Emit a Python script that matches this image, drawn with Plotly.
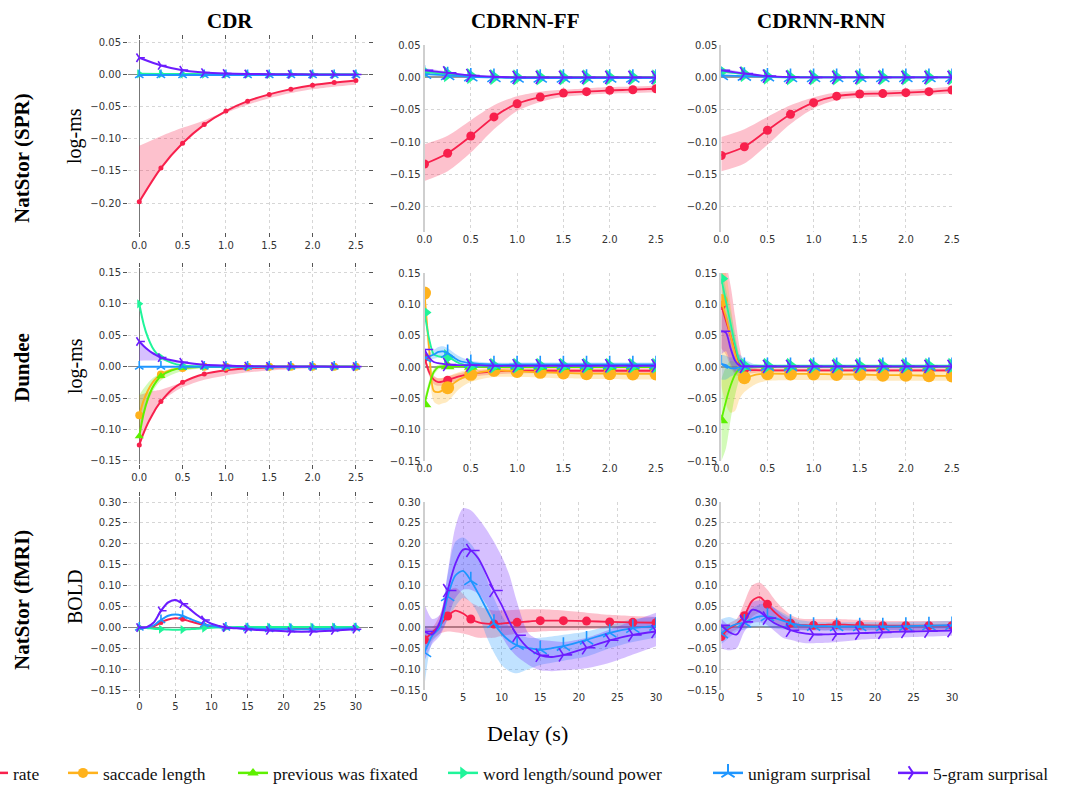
import plotly.graph_objects as go

# ---------------- grids (delay values) ----------------
X_Q = [0.0, 0.25, 0.5, 0.75, 1.0, 1.25, 1.5, 1.75, 2.0, 2.25, 2.5]
X_D = [0.0, 0.05, 0.1, 0.15, 0.2, 0.25, 0.375, 0.5, 0.75, 1.0, 1.25, 1.5, 1.75, 2.0, 2.25, 2.5]
X_F = [0, 1, 2, 3, 4, 5, 6, 7, 8, 9, 10, 11, 12, 13.5, 15, 16.5, 18, 21, 24, 27, 30]

VARS = ["rate", "saccade length", "previous was fixated", "word length/sound power",
        "unigram surprisal", "5-gram surprisal"]
COL_TITLES = ["CDR", "CDRNN-FF", "CDRNN-RNN"]
ROW_TITLES = ["NatStor (SPR)", "Dundee", "NatStor (fMRI)"]
ROW_UNITS = ["log-ms", "log-ms", "BOLD"]
X_TITLE = "Delay (s)"

# ---------------- NatStor (SPR) ----------------
spr_cdr_rate = [-0.198, -0.1456, -0.107, -0.078, -0.057, -0.0415, -0.031, -0.0228, -0.0166, -0.0124, -0.0093]
spr_cdr_rate_hi = [-0.111, -0.096, -0.083, -0.0715, -0.057, -0.0415, -0.031, -0.0228, -0.0166, -0.0124, -0.0093]
spr_cdr_rate_lo = [-0.198, -0.1456, -0.107, -0.078, -0.060, -0.047, -0.037, -0.029, -0.023, -0.019, -0.016]
spr_cdr_wlen = [0.001, 0.0008, 0.0006, 0.0005, 0.0004, 0.0004, 0.0003, 0.0003, 0.0003, 0.0003, 0.0003]
spr_cdr_uni = [-0.001, -0.001, -0.001, -0.001, -0.001, -0.001, -0.001, -0.001, -0.001, -0.001, -0.001]
spr_cdr_5g = [0.026, 0.014, 0.0067, 0.003, 0.0015, 0.0008, 0.0004, 0.0002, 0.0001, 0.0, 0.0]

spr_ff_rate = [-0.1337, -0.117, -0.0905, -0.061, -0.0406, -0.0303, -0.0242, -0.022, -0.020, -0.019, -0.0175]
spr_ff_rate_hi = [-0.103, -0.090, -0.066, -0.043, -0.029, -0.022, -0.019, -0.017, -0.015, -0.014, -0.013]
spr_ff_rate_lo = [-0.160, -0.145, -0.116, -0.080, -0.052, -0.038, -0.030, -0.027, -0.025, -0.024, -0.023]
spr_ff_wlen = [0.008, 0.005, 0.002, 0.0005, 0.0, 0.0, 0.0, 0.0, 0.0, 0.0, 0.0]
spr_ff_uni = [0.005, 0.003, 0.001, 0.0, -0.001, -0.001, -0.001, -0.001, -0.001, -0.001, -0.001]
spr_ff_5g = [0.011, 0.007, 0.003, 0.001, 0.0, 0.0, 0.0, 0.0, 0.0, 0.0, 0.0]
spr_ff_5g_hi = [0.014, 0.009, 0.004, 0.0015, 0.0005, 0.0, 0.0, 0.0, 0.0, 0.0, 0.0]
spr_ff_5g_lo = [0.007, 0.005, 0.002, 0.0005, -0.0005, -0.001, -0.001, -0.001, -0.001, -0.001, -0.001]

spr_rnn_rate = [-0.1205, -0.107, -0.0815, -0.057, -0.039, -0.029, -0.0256, -0.025, -0.0236, -0.022, -0.0195]
spr_rnn_rate_hi = [-0.092, -0.080, -0.061, -0.043, -0.031, -0.023, -0.021, -0.020, -0.019, -0.017, -0.014]
spr_rnn_rate_lo = [-0.145, -0.133, -0.104, -0.072, -0.048, -0.035, -0.031, -0.030, -0.029, -0.027, -0.025]
spr_rnn_wlen = [0.009, 0.005, 0.001, 0.0, 0.0, 0.0, 0.0, 0.0, 0.0, 0.0, 0.0]
spr_rnn_uni = [0.003, 0.002, 0.001, 0.0, 0.0, 0.0, 0.0, 0.0, 0.0, 0.0, 0.0]
spr_rnn_5g = [0.011, 0.006, 0.002, 0.0005, 0.0, 0.0, 0.0, 0.0, 0.0, 0.0, 0.0]
spr_rnn_5g_hi = [0.014, 0.008, 0.003, 0.001, 0.0005, 0.0, 0.0, 0.0, 0.0, 0.0, 0.0]
spr_rnn_5g_lo = [0.007, 0.004, 0.001, 0.0, -0.0005, 0.0, 0.0, 0.0, 0.0, 0.0, 0.0]

# ---------------- Dundee ----------------
dd_cdr_rate = [-0.1246, -0.106, -0.090, -0.077, -0.065, -0.0557, -0.037, -0.025, -0.0117, -0.0058, -0.0027, -0.0012, -0.0006, -0.0003, -0.0001, 0.0]
dd_cdr_rate_hi = [-0.045, -0.043, -0.041, -0.039, -0.038, -0.037, -0.031, -0.025, -0.0117, -0.0058, -0.0027, -0.0012, -0.0006, -0.0003, -0.0001, 0.0]
dd_cdr_rate_lo = [-0.1246, -0.106, -0.090, -0.077, -0.065, -0.0557, -0.043, -0.033, -0.021, -0.014, -0.009, -0.006, -0.004, -0.002, -0.001, -0.0005]
dd_cdr_sacc = [-0.0775, -0.054, -0.038, -0.026, -0.018, -0.0127, -0.005, -0.002, -0.0003, 0.0, 0.0, 0.0, 0.0, 0.0, 0.0, 0.0]
dd_cdr_prev = [-0.111, -0.075, -0.051, -0.034, -0.023, -0.015, -0.006, -0.002, -0.0004, 0.0, 0.0, 0.0, 0.0, 0.0, 0.0, 0.0]
dd_cdr_prev_hi = [-0.045, -0.035, -0.026, -0.019, -0.014, -0.009, -0.003, -0.001, 0.0, 0.0, 0.0, 0.0, 0.0, 0.0, 0.0, 0.0]
dd_cdr_prev_lo = [-0.111, -0.078, -0.056, -0.041, -0.030, -0.022, -0.013, -0.007, -0.002, -0.001, 0.0, 0.0, 0.0, 0.0, 0.0, 0.0]
dd_cdr_wlen = [0.100, 0.068, 0.046, 0.031, 0.021, 0.0148, 0.006, 0.002, 0.0005, 0.0001, 0.0, 0.0, 0.0, 0.0, 0.0, 0.0]
dd_cdr_uni = [0.0, 0.0, 0.0, 0.0, 0.0, 0.0, 0.0, 0.0, 0.0, 0.0, 0.0, 0.0, 0.0, 0.0, 0.0, 0.0]
dd_cdr_5g = [0.040, 0.033, 0.027, 0.022, 0.018, 0.0143, 0.010, 0.007, 0.003, 0.0016, 0.0008, 0.0004, 0.0002, 0.0001, 0.0, 0.0]
dd_cdr_5g_hi = [0.040, 0.033, 0.027, 0.022, 0.018, 0.0143, 0.010, 0.007, 0.003, 0.0016, 0.0008, 0.0004, 0.0002, 0.0001, 0.0, 0.0]
dd_cdr_5g_lo = [0.0095, 0.0096, 0.0097, 0.0098, 0.0099, 0.010, 0.007, 0.005, 0.002, 0.001, 0.0005, 0.0002, 0.0001, 0.0, 0.0, 0.0]

dd_ff_rate = [0.015, -0.008, -0.020, -0.024, -0.023, -0.021, -0.015, -0.011, -0.0075, -0.006, -0.006, -0.006, -0.006, -0.006, -0.006, -0.006]
dd_ff_rate_hi = [0.020, -0.002, -0.014, -0.018, -0.017, -0.015, -0.010, -0.006, -0.003, -0.002, -0.002, -0.002, -0.002, -0.002, -0.002, -0.002]
dd_ff_rate_lo = [0.008, -0.014, -0.027, -0.030, -0.029, -0.027, -0.021, -0.016, -0.012, -0.010, -0.010, -0.010, -0.010, -0.010, -0.010, -0.010]
dd_ff_sacc = [0.118, 0.030, -0.038, -0.040, -0.037, -0.033, -0.020, -0.0117, -0.0053, -0.007, -0.0085, -0.0096, -0.0106, -0.0106, -0.011, -0.011]
dd_ff_sacc_hi = [0.120, 0.050, -0.015, -0.018, -0.017, -0.015, -0.008, -0.004, -0.001, -0.002, -0.003, -0.003, -0.004, -0.004, -0.004, -0.004]
dd_ff_sacc_lo = [0.110, 0.000, -0.055, -0.060, -0.058, -0.055, -0.035, -0.024, -0.016, -0.016, -0.017, -0.018, -0.019, -0.019, -0.020, -0.020]
dd_ff_prev = [-0.0595, -0.030, -0.008, 0.000, 0.001, 0.001, 0.001, 0.0005, 0.0, 0.0, 0.0, 0.0, 0.0, 0.0, 0.0, 0.0]
dd_ff_prev_hi = [-0.050, -0.022, -0.003, 0.004, 0.004, 0.003, 0.002, 0.001, 0.001, 0.001, 0.001, 0.001, 0.001, 0.001, 0.001, 0.001]
dd_ff_prev_lo = [-0.066, -0.037, -0.013, -0.004, -0.002, -0.001, 0.0, 0.0, -0.001, -0.001, -0.001, -0.001, -0.001, -0.001, -0.001, -0.001]
dd_ff_wlen = [0.087, 0.045, 0.020, 0.017, 0.016, 0.016, 0.006, 0.002, 0.002, 0.002, 0.002, 0.002, 0.002, 0.002, 0.002, 0.002]
dd_ff_uni = [0.015, 0.017, 0.020, 0.024, 0.025, 0.022, 0.010, 0.006, 0.004, 0.004, 0.004, 0.004, 0.004, 0.004, 0.004, 0.004]
dd_ff_uni_hi = [0.020, 0.022, 0.027, 0.032, 0.033, 0.030, 0.017, 0.010, 0.007, 0.007, 0.007, 0.007, 0.007, 0.007, 0.007, 0.007]
dd_ff_uni_lo = [0.010, 0.012, 0.013, 0.015, 0.017, 0.014, 0.005, 0.002, 0.001, 0.001, 0.001, 0.001, 0.001, 0.001, 0.001, 0.001]
dd_ff_5g = [0.028, 0.015, 0.008, 0.006, 0.005, 0.004, 0.003, 0.003, 0.002, 0.002, 0.002, 0.002, 0.002, 0.002, 0.002, 0.002]

dd_rnn_rate = [0.098, 0.074, 0.050, 0.025, 0.005, -0.004, -0.005, -0.0053, -0.0053, -0.0053, -0.0053, -0.0053, -0.0053, -0.0053, -0.0053, -0.0053]
dd_rnn_rate_hi = [0.150, 0.160, 0.130, 0.080, 0.030, 0.005, -0.001, -0.002, -0.002, -0.002, -0.002, -0.002, -0.002, -0.002, -0.002, -0.002]
dd_rnn_rate_lo = [0.030, 0.020, 0.000, -0.012, -0.015, -0.012, -0.009, -0.008, -0.008, -0.008, -0.008, -0.008, -0.008, -0.008, -0.008, -0.008]
dd_rnn_sacc = [0.106, 0.080, 0.050, 0.020, -0.005, -0.017, -0.012, -0.0106, -0.011, -0.011, -0.012, -0.012, -0.013, -0.013, -0.014, -0.0143]
dd_rnn_sacc_hi = [0.170, 0.150, 0.100, 0.050, 0.015, 0.000, -0.002, -0.003, -0.004, -0.004, -0.005, -0.005, -0.005, -0.005, -0.006, -0.006]
dd_rnn_sacc_lo = [-0.030, -0.060, -0.073, -0.070, -0.050, -0.040, -0.027, -0.022, -0.021, -0.021, -0.021, -0.021, -0.022, -0.022, -0.022, -0.022]
dd_rnn_prev = [-0.085, -0.055, -0.030, -0.012, -0.003, 0.000, 0.001, 0.001, 0.001, 0.001, 0.001, 0.001, 0.001, 0.001, 0.001, 0.001]
dd_rnn_prev_hi = [-0.020, 0.000, 0.010, 0.008, 0.005, 0.003, 0.002, 0.002, 0.002, 0.002, 0.002, 0.002, 0.002, 0.002, 0.002, 0.002]
dd_rnn_prev_lo = [-0.150, -0.130, -0.085, -0.045, -0.018, -0.006, -0.002, -0.001, -0.001, -0.001, -0.001, -0.001, -0.001, -0.001, -0.001, -0.001]
dd_rnn_wlen = [0.141, 0.105, 0.070, 0.035, 0.008, 0.002, 0.002, 0.002, 0.002, 0.002, 0.002, 0.002, 0.002, 0.002, 0.002, 0.002]
dd_rnn_wlen_hi = [0.160, 0.125, 0.090, 0.052, 0.018, 0.006, 0.004, 0.003, 0.003, 0.003, 0.003, 0.003, 0.003, 0.003, 0.003, 0.003]
dd_rnn_wlen_lo = [0.120, 0.085, 0.050, 0.020, 0.000, -0.002, 0.000, 0.001, 0.001, 0.001, 0.001, 0.001, 0.001, 0.001, 0.001, 0.001]
dd_rnn_uni = [0.005, 0.003, -0.002, -0.002, 0.000, 0.001, 0.001, 0.001, 0.001, 0.001, 0.001, 0.001, 0.001, 0.001, 0.001, 0.001]
dd_rnn_uni_hi = [0.020, 0.018, 0.015, 0.018, 0.020, 0.012, 0.004, 0.003, 0.003, 0.003, 0.003, 0.003, 0.003, 0.003, 0.003, 0.003]
dd_rnn_uni_lo = [-0.020, -0.020, -0.015, -0.012, -0.008, -0.005, -0.002, -0.001, -0.001, -0.001, -0.001, -0.001, -0.001, -0.001, -0.001, -0.001]
dd_rnn_5g = [0.057, 0.055, 0.030, 0.010, 0.002, 0.001, 0.001, 0.001, 0.001, 0.001, 0.001, 0.001, 0.001, 0.001, 0.001, 0.001]
dd_rnn_5g_hi = [0.090, 0.085, 0.060, 0.030, 0.010, 0.004, 0.002, 0.002, 0.002, 0.002, 0.002, 0.002, 0.002, 0.002, 0.002, 0.002]
dd_rnn_5g_lo = [0.020, 0.025, 0.005, -0.008, -0.006, -0.002, 0.000, 0.000, 0.000, 0.000, 0.000, 0.000, 0.000, 0.000, 0.000, 0.000]

# ---------------- NatStor (fMRI) ----------------
fm_cdr_rate = [0.0, 0.0, 0.003, 0.012, 0.019, 0.022, 0.020, 0.015, 0.010, 0.006, 0.003, 0.001, 0.0, -0.001, -0.001, -0.0015, -0.002, -0.002, -0.002, -0.0015, -0.001]
fm_cdr_wlen = [0.0, -0.001, -0.003, -0.004, -0.005, -0.0055, -0.005, -0.004, -0.003, -0.0015, -0.0005, 0.0, 0.0005, 0.001, 0.001, 0.001, 0.001, 0.001, 0.001, 0.001, 0.001]
fm_cdr_uni = [0.0, 0.0, 0.005, 0.018, 0.028, 0.031, 0.028, 0.021, 0.014, 0.008, 0.004, 0.001, 0.0, -0.001, -0.002, -0.003, -0.0035, -0.004, -0.004, -0.003, -0.002]
fm_cdr_5g = [0.0, 0.001, 0.012, 0.040, 0.060, 0.066, 0.057, 0.044, 0.030, 0.018, 0.009, 0.004, 0.0, -0.002, -0.004, -0.006, -0.007, -0.0095, -0.0095, -0.007, -0.004]
fm_cdr_5g_hi = [0.0, 0.002, 0.014, 0.043, 0.063, 0.069, 0.060, 0.046, 0.032, 0.019, 0.010, 0.004, 0.0, -0.002, -0.003, -0.005, -0.006, -0.008, -0.008, -0.006, -0.003]
fm_cdr_5g_lo = [0.0, 0.0, 0.010, 0.037, 0.057, 0.063, 0.054, 0.042, 0.028, 0.017, 0.008, 0.003, -0.001, -0.003, -0.005, -0.007, -0.008, -0.011, -0.011, -0.008, -0.005]

fm_ff_rate = [-0.030, -0.012, 0.005, 0.027, 0.040, 0.033, 0.020, 0.012, 0.009, 0.008, 0.009, 0.011, 0.012, 0.014, 0.016, 0.016, 0.016, 0.015, 0.013, 0.012, 0.011]
fm_ff_rate_hi = [0.000, 0.000, 0.030, 0.085, 0.095, 0.080, 0.060, 0.050, 0.045, 0.040, 0.040, 0.041, 0.042, 0.043, 0.043, 0.042, 0.040, 0.035, 0.030, 0.027, 0.025]
fm_ff_rate_lo = [-0.060, -0.030, -0.015, -0.010, -0.012, -0.015, -0.020, -0.025, -0.025, -0.025, -0.020, -0.018, -0.015, -0.012, -0.010, -0.009, -0.008, -0.005, -0.003, -0.002, -0.002]
fm_ff_uni = [-0.060, -0.020, 0.000, 0.074, 0.124, 0.135, 0.112, 0.080, 0.045, 0.010, -0.015, -0.032, -0.043, -0.050, -0.053, -0.050, -0.045, -0.030, -0.013, -0.002, 0.003]
fm_ff_uni_hi = [0.000, -0.005, 0.020, 0.125, 0.205, 0.215, 0.200, 0.170, 0.120, 0.070, 0.030, 0.000, -0.015, -0.025, -0.025, -0.022, -0.018, -0.010, 0.005, 0.020, 0.025]
fm_ff_uni_lo = [-0.140, -0.035, -0.015, 0.020, 0.050, 0.070, 0.060, 0.030, -0.020, -0.060, -0.090, -0.105, -0.110, -0.100, -0.090, -0.085, -0.080, -0.070, -0.050, -0.035, -0.025]
fm_ff_5g = [-0.010, -0.017, 0.013, 0.088, 0.152, 0.186, 0.184, 0.164, 0.128, 0.088, 0.053, 0.013, -0.019, -0.051, -0.067, -0.071, -0.066, -0.049, -0.031, -0.018, -0.010]
fm_ff_5g_hi = [0.055, 0.020, 0.030, 0.130, 0.240, 0.285, 0.280, 0.260, 0.235, 0.205, 0.170, 0.125, 0.060, -0.015, -0.030, -0.033, -0.035, -0.025, -0.005, 0.015, 0.035]
fm_ff_5g_lo = [-0.080, -0.040, -0.020, 0.020, 0.070, 0.090, 0.090, 0.080, 0.055, 0.020, -0.020, -0.050, -0.070, -0.090, -0.103, -0.105, -0.103, -0.098, -0.085, -0.065, -0.045]

fm_rnn_rate = [-0.022, -0.003, 0.008, 0.028, 0.063, 0.072, 0.055, 0.035, 0.020, 0.010, 0.006, 0.005, 0.005, 0.006, 0.007, 0.006, 0.005, 0.004, 0.004, 0.004, 0.004]
fm_rnn_rate_hi = [-0.005, 0.010, 0.020, 0.060, 0.100, 0.107, 0.090, 0.065, 0.045, 0.030, 0.022, 0.020, 0.020, 0.020, 0.020, 0.019, 0.018, 0.016, 0.015, 0.015, 0.015]
fm_rnn_rate_lo = [-0.035, -0.015, -0.005, 0.000, 0.025, 0.035, 0.025, 0.010, 0.000, -0.003, -0.006, -0.007, -0.007, -0.007, -0.006, -0.007, -0.007, -0.008, -0.008, -0.008, -0.008]
fm_rnn_uni = [-0.015, 0.000, 0.008, 0.011, 0.020, 0.026, 0.026, 0.022, 0.016, 0.010, 0.006, 0.004, 0.003, 0.003, 0.002, 0.002, 0.002, 0.002, 0.003, 0.004, 0.005]
fm_rnn_uni_hi = [0.020, 0.025, 0.020, 0.030, 0.045, 0.055, 0.055, 0.045, 0.035, 0.025, 0.018, 0.015, 0.013, 0.012, 0.012, 0.012, 0.012, 0.012, 0.013, 0.014, 0.016]
fm_rnn_uni_lo = [-0.040, -0.025, -0.010, -0.005, 0.000, 0.002, 0.000, -0.003, -0.005, -0.006, -0.007, -0.007, -0.007, -0.008, -0.008, -0.008, -0.008, -0.007, -0.006, -0.005, -0.005]
fm_rnn_5g = [0.005, -0.011, -0.017, 0.013, 0.042, 0.037, 0.022, 0.009, 0.001, -0.007, -0.012, -0.015, -0.017, -0.017, -0.016, -0.015, -0.014, -0.012, -0.010, -0.009, -0.008]
fm_rnn_5g_hi = [0.020, 0.005, 0.000, 0.030, 0.060, 0.065, 0.060, 0.045, 0.030, 0.020, 0.010, 0.005, 0.003, 0.000, 0.000, 0.000, 0.000, 0.000, 0.000, 0.002, 0.003]
fm_rnn_5g_lo = [-0.050, -0.055, -0.050, -0.010, 0.010, 0.012, 0.005, -0.010, -0.025, -0.030, -0.035, -0.038, -0.038, -0.037, -0.035, -0.033, -0.030, -0.027, -0.024, -0.022, -0.020]

# ---------------- styling ----------------
W, H = 1077, 785
COLORS = ["#f8204c", "#ffb21c", "#5ef000", "#1ff59a", "#1e96ff", "#6c1cff"]
SYMBOLS = ["circle", "circle", "triangle-up", "triangle-right", "y-up", "y-right"]
SIZE_CDR = [5, 8, 8, 8, 7, 7]
SIZE_NN = [9, 13, 12, 14, 11, 11]
SIZE_LEG = [7, 10, 10, 11, 11, 11]
FILL_ALPHA = 0.28
SERIF = "Liberation Serif"
SANS = "DejaVu Sans"


def rgba(hexc, a):
    h = hexc.lstrip("#")
    return "rgba(%d,%d,%d,%.3f)" % (int(h[0:2], 16), int(h[2:4], 16), int(h[4:6], 16), a)


panels = [
    dict(r=1, c=1, x=X_Q, step=0.25, s={0: (spr_cdr_rate, spr_cdr_rate_lo, spr_cdr_rate_hi), 4: (spr_cdr_uni, None, None), 3: (spr_cdr_wlen, None, None), 5: (spr_cdr_5g, None, None)}),
    dict(r=1, c=2, x=X_Q, step=0.25, s={0: (spr_ff_rate, spr_ff_rate_lo, spr_ff_rate_hi), 4: (spr_ff_uni, None, None), 5: (spr_ff_5g, spr_ff_5g_lo, spr_ff_5g_hi), 3: (spr_ff_wlen, None, None)}),
    dict(r=1, c=3, x=X_Q, step=0.25, s={0: (spr_rnn_rate, spr_rnn_rate_lo, spr_rnn_rate_hi), 4: (spr_rnn_uni, None, None), 5: (spr_rnn_5g, spr_rnn_5g_lo, spr_rnn_5g_hi), 3: (spr_rnn_wlen, None, None)}),
    dict(r=2, c=1, x=X_D, step=0.25, s={0: (dd_cdr_rate, dd_cdr_rate_lo, dd_cdr_rate_hi), 1: (dd_cdr_sacc, None, None), 2: (dd_cdr_prev, dd_cdr_prev_lo, dd_cdr_prev_hi), 3: (dd_cdr_wlen, None, None), 4: (dd_cdr_uni, None, None), 5: (dd_cdr_5g, dd_cdr_5g_lo, dd_cdr_5g_hi)}),
    dict(r=2, c=2, x=X_D, step=0.25, s={0: (dd_ff_rate, dd_ff_rate_lo, dd_ff_rate_hi), 1: (dd_ff_sacc, dd_ff_sacc_lo, dd_ff_sacc_hi), 2: (dd_ff_prev, dd_ff_prev_lo, dd_ff_prev_hi), 3: (dd_ff_wlen, None, None), 4: (dd_ff_uni, dd_ff_uni_lo, dd_ff_uni_hi), 5: (dd_ff_5g, None, None)}),
    dict(r=2, c=3, x=X_D, step=0.25, s={0: (dd_rnn_rate, dd_rnn_rate_lo, dd_rnn_rate_hi), 1: (dd_rnn_sacc, dd_rnn_sacc_lo, dd_rnn_sacc_hi), 2: (dd_rnn_prev, dd_rnn_prev_lo, dd_rnn_prev_hi), 3: (dd_rnn_wlen, dd_rnn_wlen_lo, dd_rnn_wlen_hi), 4: (dd_rnn_uni, dd_rnn_uni_lo, dd_rnn_uni_hi), 5: (dd_rnn_5g, dd_rnn_5g_lo, dd_rnn_5g_hi)}),
    dict(r=3, c=1, x=X_F, step=3, s={0: (fm_cdr_rate, None, None), 3: (fm_cdr_wlen, None, None), 4: (fm_cdr_uni, None, None), 5: (fm_cdr_5g, fm_cdr_5g_lo, fm_cdr_5g_hi)}),
    dict(r=3, c=2, x=X_F, step=3, s={0: (fm_ff_rate, fm_ff_rate_lo, fm_ff_rate_hi), 4: (fm_ff_uni, fm_ff_uni_lo, fm_ff_uni_hi), 5: (fm_ff_5g, fm_ff_5g_lo, fm_ff_5g_hi)}),
    dict(r=3, c=3, x=X_F, step=3, s={0: (fm_rnn_rate, fm_rnn_rate_lo, fm_rnn_rate_hi), 4: (fm_rnn_uni, fm_rnn_uni_lo, fm_rnn_uni_hi), 5: (fm_rnn_5g, fm_rnn_5g_lo, fm_rnn_5g_hi)}),
]

# pixel layout of the plotting areas
COL_PX = {1: (128, 368), 2: (424.5, 656), 3: (721.3, 952)}
ROW_PX_CDR = {1: (40, 232), 2: (268, 464), 3: (497, 693)}
ROW_PX_NN = {1: (45, 232), 2: (273, 461), 3: (502, 690)}
YRANGE_CDR = {1: [-0.245, 0.0536], 2: [-0.155, 0.157], 3: [-0.1565, 0.312]}
YRANGE_NN = {1: [-0.2386, 0.05], 2: [-0.15, 0.15], 3: [-0.15, 0.30]}
XRANGE_CDR = {1: [-0.13, 2.64], 2: [-0.13, 2.64], 3: [-1.57, 31.7]}
XRANGE_NN = {1: [0, 2.5], 2: [0, 2.5], 3: [0, 30]}

fig = go.Figure()
layout = {}

for p in panels:
    r, c = p["r"], p["c"]
    idx = (r - 1) * 3 + c
    xa = "x" if idx == 1 else "x%d" % idx
    ya = "y" if idx == 1 else "y%d" % idx
    cdr = (c == 1)
    X = p["x"]
    sizes = SIZE_CDR if cdr else SIZE_NN
    order = sorted(p["s"].keys())
    # bands
    for vi in order:
        y, lo, hi = p["s"][vi]
        if lo is None:
            continue
        fig.add_trace(go.Scatter(x=X, y=hi, mode="lines", line=dict(width=0, shape="spline", smoothing=0.8),
                                 xaxis=xa, yaxis=ya, showlegend=False, hoverinfo="skip"))
        fig.add_trace(go.Scatter(x=X, y=lo, mode="lines", line=dict(width=0, shape="spline", smoothing=0.8),
                                 fill="tonexty", fillcolor=rgba(COLORS[vi], FILL_ALPHA),
                                 xaxis=xa, yaxis=ya, showlegend=False, hoverinfo="skip"))
    # lines + markers
    for vi in order:
        y, lo, hi = p["s"][vi]
        fig.add_trace(go.Scatter(x=X, y=y, mode="lines",
                                 line=dict(color=COLORS[vi], width=2 if cdr else 1.8, shape="spline", smoothing=0.8),
                                 xaxis=xa, yaxis=ya, showlegend=False, hoverinfo="skip"))
        keep = [i for i, xv in enumerate(X) if abs(xv / p["step"] - round(xv / p["step"])) < 1e-9]
        sym = SYMBOLS[vi]
        is_y = sym.startswith("y-")
        fig.add_trace(go.Scatter(
            x=[X[i] for i in keep], y=[y[i] for i in keep], mode="markers",
            marker=dict(symbol=sym, size=sizes[vi], color=COLORS[vi],
                        line=dict(width=1.6 if is_y else 0, color=COLORS[vi])),
            xaxis=xa, yaxis=ya, showlegend=False, hoverinfo="skip"))

    x0, x1 = COL_PX[c]
    y0, y1 = (ROW_PX_CDR if cdr else ROW_PX_NN)[r]
    xkey = "xaxis" if idx == 1 else "xaxis%d" % idx
    ykey = "yaxis" if idx == 1 else "yaxis%d" % idx
    common = dict(showgrid=True, gridcolor="#d6d6d6", griddash="dot", gridwidth=1,
                  tickfont=dict(family=SANS, size=10, color="#333"), fixedrange=True)
    xd = dict(common, domain=[x0 / W, x1 / W], anchor=ya,
              range=(XRANGE_CDR if cdr else XRANGE_NN)[r],
              dtick=0.5 if r < 3 else 5, tick0=0, tickformat=".1f" if r < 3 else "d")
    yd = dict(common, domain=[1 - y1 / H, 1 - y0 / H], anchor=xa,
              range=(YRANGE_CDR if cdr else YRANGE_NN)[r], dtick=0.05, tick0=0, tickformat=".2f")
    if cdr:
        for d in (xd, yd):
            d.update(ticks="outside", ticklen=4, tickwidth=1, tickcolor="#555",
                     showline=True, linecolor="rgba(0,0,0,0)", mirror="ticks")
        xd.update(zeroline=True, zerolinecolor="#777", zerolinewidth=1.2)
        yd.update(zeroline=True, zerolinecolor="#888", zerolinewidth=1.2)
    else:
        xd.update(ticks="", zeroline=False, showline=False)
        yd.update(ticks="", zeroline=True, zerolinecolor="#999", zerolinewidth=1.5,
                  showline=True, linecolor="#cfcfcf", linewidth=2)
    layout[xkey] = xd
    layout[ykey] = yd

# legend entries (one legend per entry so each sits at its own place)
LEG_X = [-27, 63, 233, 443, 708, 893]
for vi, name in enumerate(VARS):
    sym = SYMBOLS[vi]
    is_y = sym.startswith("y-")
    lk = "legend" if vi == 0 else "legend%d" % (vi + 1)
    fig.add_trace(go.Scatter(
        x=[None], y=[None], mode="lines+markers", name=name,
        line=dict(color=COLORS[vi], width=2.5),
        marker=dict(symbol=sym, size=SIZE_LEG[vi], color=COLORS[vi],
                    line=dict(width=2 if is_y else 0, color=COLORS[vi])),
        legend=lk, showlegend=True, xaxis="x", yaxis="y"))
    layout[lk] = dict(x=LEG_X[vi] / W, y=1 - 773 / H, xanchor="left", yanchor="middle",
                      orientation="h", bgcolor="rgba(0,0,0,0)", borderwidth=0,
                      font=dict(family=SERIF, size=17.5, color="#111"))

ann = []
for c, t, xc in zip([1, 2, 3], COL_TITLES, [230, 525, 821]):
    ann.append(dict(text="<b>%s</b>" % t, x=xc / W, y=1 - 21 / H, xref="paper", yref="paper",
                    showarrow=False, font=dict(family=SERIF, size=21, color="#000"),
                    xanchor="center", yanchor="middle"))
for t, yc in zip(ROW_TITLES, [158, 368, 600]):
    ann.append(dict(text="<b>%s</b>" % t, x=22 / W, y=1 - yc / H, xref="paper", yref="paper",
                    showarrow=False, textangle=-90, font=dict(family=SERIF, size=21, color="#000"),
                    xanchor="center", yanchor="middle"))
for t, yc in zip(ROW_UNITS, [136, 366, 597]):
    ann.append(dict(text=t, x=75 / W, y=1 - yc / H, xref="paper", yref="paper",
                    showarrow=False, textangle=-90, font=dict(family=SERIF, size=20, color="#000"),
                    xanchor="center", yanchor="middle"))
ann.append(dict(text=X_TITLE, x=527 / W, y=1 - 733 / H, xref="paper", yref="paper",
                showarrow=False, font=dict(family=SERIF, size=22, color="#000"),
                xanchor="center", yanchor="middle"))

fig.update_layout(width=W, height=H, margin=dict(l=0, r=0, t=0, b=0, autoexpand=False),
                  paper_bgcolor="white", plot_bgcolor="white",
                  annotations=ann, **layout)

fig.write_html("out.html")
